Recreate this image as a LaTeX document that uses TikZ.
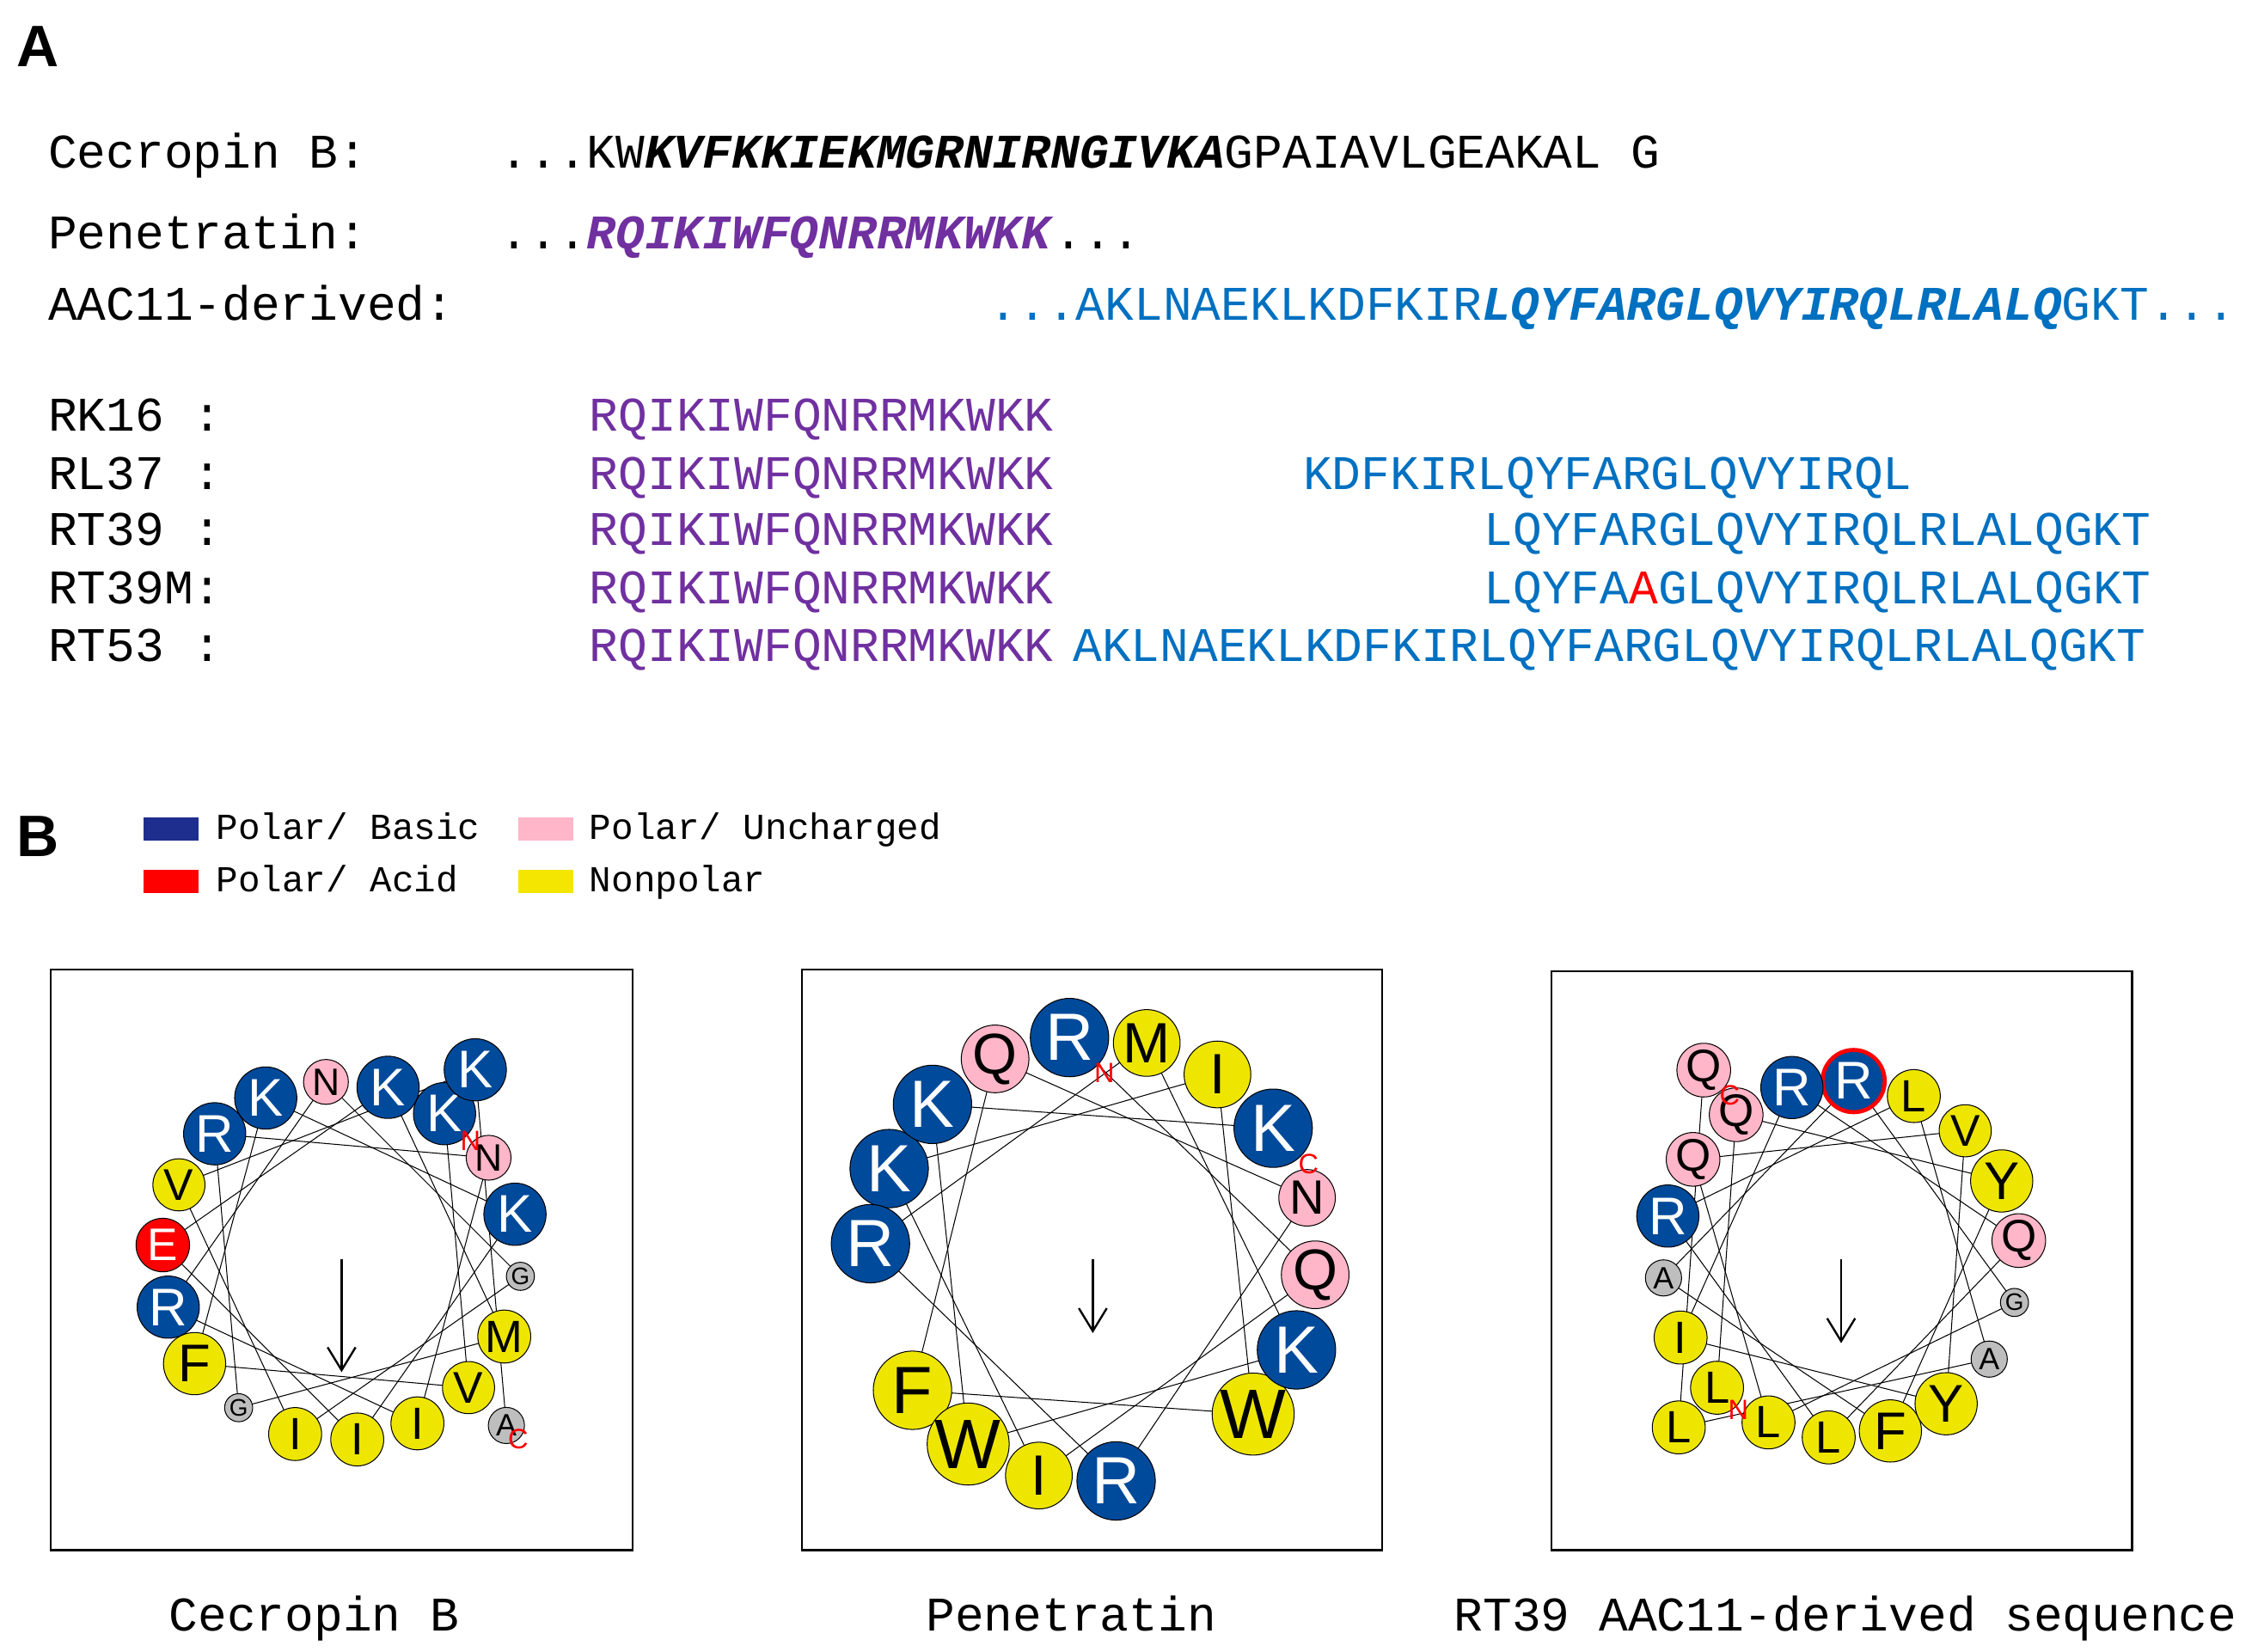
\documentclass[tikz,border=0pt]{standalone}
\usepackage{fontspec}
\setsansfont{Liberation Sans}
\newfontfamily\mono{Liberation Mono}
\usetikzlibrary{arrows.meta,backgrounds}
\definecolor{cblue}{RGB}{0,74,155}
\definecolor{cyel}{RGB}{238,230,0}
\definecolor{cpink}{RGB}{255,182,200}
\definecolor{cgray}{RGB}{190,190,190}
\definecolor{cred}{RGB}{255,0,0}
\definecolor{lblue}{RGB}{30,46,142}
\definecolor{lyel}{RGB}{245,230,0}
\definecolor{tpur}{RGB}{112,48,160}
\definecolor{tblu}{RGB}{0,112,192}
\def\wsc{1}
\tikzset{
 rr/.code={\pgfmathsetmacro\rsz{#1*\wsc}\pgfmathsetmacro\fsz{0.97*\rsz}\tikzset{minimum size=\rsz*0.04cm,font=\fontsize{\fsz pt}{\fsz pt}\selectfont\sffamily}},
 res/.style={circle,draw=black,line width=0.35pt,inner sep=0pt},
 aa/K/.style={fill=cblue,text=white,rr=21.5},
 aa/R/.style={fill=cblue,text=white,rr=21.5},
 aa/E/.style={fill=cred,text=white,rr=18.5},
 aa/N/.style={fill=cpink,rr=15.5},
 aa/Q/.style={fill=cpink,rr=18.5},
 aa/W/.style={fill=cyel,rr=22.5},
 aa/F/.style={fill=cyel,rr=21.5},
 aa/Y/.style={fill=cyel,rr=21.5},
 aa/M/.style={fill=cyel,rr=18.3},
 aa/I/.style={fill=cyel,rr=18.3},
 aa/V/.style={fill=cyel,rr=18},
 aa/L/.style={fill=cyel,rr=18.3},
 aa/A/.style={fill=cgray,rr=12.5},
 aa/G/.style={fill=cgray,rr=9.7},
 txt/.style={anchor=base west,inner sep=0pt,font=\fontsize{19}{19}\selectfont\mono},
 lg/.style={anchor=base west,inner sep=0pt,font=\fontsize{14.4}{14.4}\selectfont\mono},
 captxt/.style={anchor=base,inner sep=0pt,font=\fontsize{19}{19}\selectfont\mono},
 term/.style={inner sep=0pt,text=cred,font=\fontsize{11}{11}\selectfont\sffamily},
 box/.style={draw=black,line width=0.8pt},
 wline/.style={line width=0.35pt},
 harrow/.style={line width=0.8pt,-{Straight Barb[length=9pt,width=11pt]}},
}
\newcommand{\mywheel}[8]{% cx cy rin rout start prefix list n
 \foreach \a [count=\i] in {#7}{
  \pgfmathsetmacro\ang{#5-100*(\i-1)}
  \pgfmathsetmacro\rad{\i>18 ? #4 : #3}
  \ifnum\i=\hlres
   \node[res,aa/\a,draw=cred,line width=1.6pt] (#6-\i) at ({#1+\rad*cos(\ang)},{#2-\rad*sin(\ang)}) {\a};
  \else
   \node[res,aa/\a] (#6-\i) at ({#1+\rad*cos(\ang)},{#2-\rad*sin(\ang)}) {\a};
  \fi
 }
 \begin{pgfonlayer}{background}
 \foreach \i in {2,...,#8}{
  \pgfmathtruncatemacro\j{\i-1}
  \draw[wline] (#6-\j.center) -- (#6-\i.center);
 }
 \end{pgfonlayer}
}
\def\hlres{0}
\begin{document}
\begin{tikzpicture}[x=0.02cm,y=-0.02cm]
\useasboundingbox (0,0) rectangle (1560,1141);
\node[anchor=base west,inner sep=0pt,font=\fontsize{23}{23}\selectfont\sffamily\bfseries] (pA) at (11,46) {A};
\node[anchor=base west,inner sep=0pt,font=\fontsize{23}{23}\selectfont\sffamily\bfseries] (pB) at (11,592) {B};
\node[txt] (l1) at (33,116) {Cecropin B:};
\node[txt] (s1) at (345,116) {...KW\textbf{\textit{KVFKKIEKMGRNIRNGIVKA}}GPAIAVLGEAKAL G};
\node[txt] (l2) at (33,172) {Penetratin:};
\node[txt] (s2) at (345,172) {...\textcolor{tpur}{\textbf{\textit{RQIKIWFQNRRMKWKK}}}...};
\node[txt] (l3) at (33,221) {AAC11-derived:};
\node[txt,text=tblu] (s3) at (683,221) {...AKLNAEKLKDFKIR\textbf{\textit{LQYFARGLQVYIRQLRLALQ}}GKT...};
\node[txt] (r1) at (33,298) {RK16 :};
\node[txt] (r2) at (33,338) {RL37 :};
\node[txt] (r3) at (33,377) {RT39 :};
\node[txt] (r4) at (33,417) {RT39M:};
\node[txt] (r5) at (33,457) {RT53 :};
\node[txt,text=tpur] (p1) at (407,298) {RQIKIWFQNRRMKWKK};
\node[txt,text=tpur] (p2) at (407,338) {RQIKIWFQNRRMKWKK};
\node[txt,text=tpur] (p3) at (407,377) {RQIKIWFQNRRMKWKK};
\node[txt,text=tpur] (p4) at (407,417) {RQIKIWFQNRRMKWKK};
\node[txt,text=tpur] (p5) at (407,457) {RQIKIWFQNRRMKWKK};
\node[txt,text=tblu] (b2) at (900,338) {KDFKIRLQYFARGLQVYIRQL};
\node[txt,text=tblu] (b3) at (1025,377) {LQYFARGLQVYIRQLRLALQGKT};
\node[txt,text=tblu] (b4) at (1025,417) {LQYFA\textcolor{cred}{A}GLQVYIRQLRLALQGKT};
\node[txt,text=tblu] (b5) at (741,457) {AKLNAEKLKDFKIRLQYFARGLQVYIRQLRLALQGKT};
\fill[lblue] (99,565) rectangle (137,581);
\fill[cred] (99,601) rectangle (137,617);
\fill[cpink] (358,565) rectangle (396,581);
\fill[lyel] (358,601) rectangle (396,617);
\node[lg] (g1) at (149,580) {Polar/ Basic};
\node[lg] (g2) at (149,616) {Polar/ Acid};
\node[lg] (g3) at (407,580) {Polar/ Uncharged};
\node[lg] (g4) at (407,616) {Nonpolar};
\draw[box] (35,670) rectangle (437,1071);
\draw[box] (554,670) rectangle (955,1071);
\draw[box] (1072,671) rectangle (1473,1071);
\def\wsc{1}
\mywheel{236}{871}{124}{161}{55}{c}{K,V,F,K,K,I,E,K,M,G,R,N,I,R,N,G,I,V,K,A}{20}
\def\wsc{1.26}
\mywheel{755}{870}{154}{154}{96}{p}{R,Q,I,K,I,W,F,Q,N,R,R,M,K,W,K,K}{16}
\def\wsc{1}
\def\hlres{6}
\mywheel{1272}{870}{123.4}{161.5}{-134}{t}{L,Q,Y,F,A,R,G,L,Q,V,Y,I,R,Q,L,R,L,A,L,Q}{20}
\def\hlres{0}
\coordinate (ca0) at (236,870); \coordinate (ca1) at (236,948);
\coordinate (pa0) at (755,870); \coordinate (pa1) at (755,921);
\coordinate (ta0) at (1272,870); \coordinate (ta1) at (1272,928);
\draw[harrow] (ca0) -- (ca1);
\draw[harrow] (pa0) -- (pa1);
\draw[harrow] (ta0) -- (ta1);
\node[term] (cN) at (325,788) {N};
\node[term] (cC) at (358,994) {C};
\node[term] (pN) at (763,741) {N};
\node[term] (pC) at (904,804) {C};
\node[term] (tN) at (1201,974) {N};
\node[term] (tC) at (1195,757) {C};
\node[captxt] (k1) at (217,1127) {Cecropin B};
\node[captxt] (k2) at (740,1127) {Penetratin};
\node[captxt] (k3) at (1275,1127) {RT39 AAC11-derived sequence};
\end{tikzpicture}
\end{document}
